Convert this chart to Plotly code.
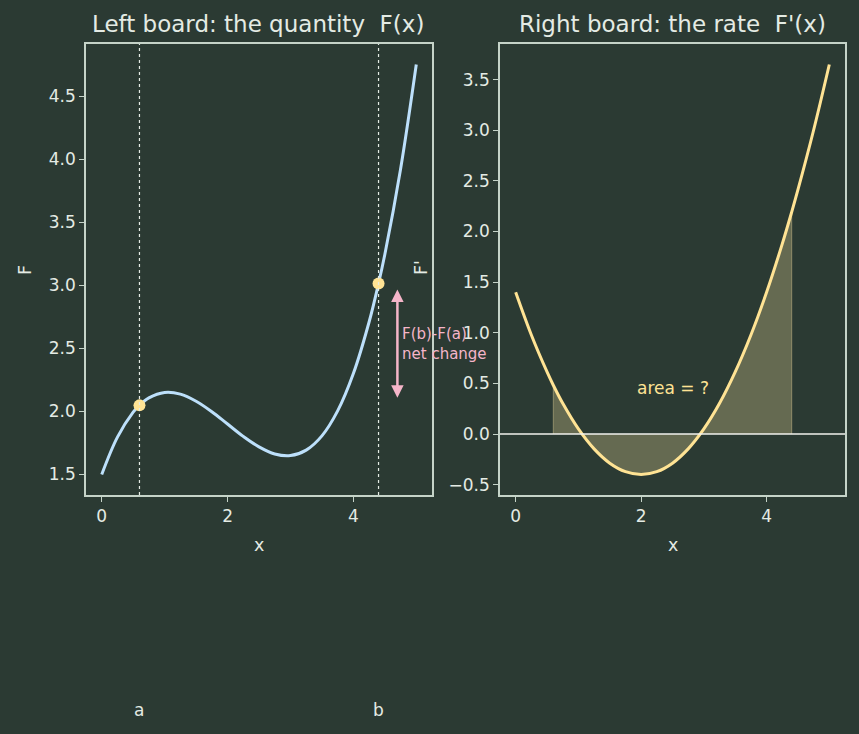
import plotly.graph_objects as go

# ---- data ----
x_vals = [0.0, 0.25, 0.5, 0.6, 0.75, 1.0, 1.25, 1.5, 1.75, 2.0, 2.25, 2.5, 2.75,
          3.0, 3.25, 3.5, 3.75, 4.0, 4.25, 4.4, 4.5, 4.75, 5.0]
F_vals = [1.50, 1.796, 1.994, 2.048, 2.107, 2.150, 2.137, 2.081, 1.998, 1.900, 1.802,
          1.719, 1.663, 1.650, 1.693, 1.806, 2.004, 2.300, 2.709, 3.014, 3.244, 3.920, 4.750]
dF_vals = [1.40, 0.978, 0.613, 0.482, 0.303, 0.050, -0.147, -0.288, -0.372, -0.400, -0.372,
           -0.288, -0.147, 0.050, 0.303, 0.613, 0.978, 1.400, 1.878, 2.192, 2.413, 3.003, 3.650]
a_pt, b_pt = 0.6, 4.4
Fa, Fb = 2.048, 3.014

left_xticks = [0, 2, 4]
left_yticks = [1.5, 2.0, 2.5, 3.0, 3.5, 4.0, 4.5]
right_xticks = [0, 2, 4]
right_yticks = [-0.5, 0.0, 0.5, 1.0, 1.5, 2.0, 2.5, 3.0, 3.5]

BG = "#2b3a33"
FG = "#e4ebe4"
SPINE = "#c5d3c8"
BLUE = "#bde0fb"
YEL = "#ffe394"
PINK = "#f5b5c9"
FONT = "DejaVu Sans"

fig = go.Figure()

# fill between F' and 0 from a to b
fx = [a_pt] + [x for x in x_vals if a_pt <= x <= b_pt] + [b_pt]
fy = [0.0] + [y for x, y in zip(x_vals, dF_vals) if a_pt <= x <= b_pt] + [0.0]
fig.add_trace(go.Scatter(x=fx, y=fy, fill="toself", mode="lines",
                         fillcolor="rgba(150,145,105,0.55)",
                         line=dict(color="rgba(160,155,115,0.8)", width=1),
                         xaxis="x2", yaxis="y2", hoverinfo="skip", showlegend=False))

fig.add_trace(go.Scatter(x=x_vals, y=F_vals, mode="lines", line=dict(color=BLUE, width=3, shape="spline"),
                         xaxis="x", yaxis="y", showlegend=False))
fig.add_trace(go.Scatter(x=[a_pt, b_pt], y=[Fa, Fb], mode="markers",
                         marker=dict(color=YEL, size=12), xaxis="x", yaxis="y", showlegend=False))
fig.add_trace(go.Scatter(x=x_vals, y=dF_vals, mode="lines", line=dict(color=YEL, width=3, shape="spline"),
                         xaxis="x2", yaxis="y2", showlegend=False))

axis_common = dict(showline=True, mirror=True, linecolor=SPINE, linewidth=1.5,
                   ticks="outside", ticklen=5, tickwidth=1.2, tickcolor=SPINE,
                   showgrid=False, zeroline=False,
                   tickfont=dict(family=FONT, size=17, color=FG))

ydom = [1 - 495 / 734, 1 - 44 / 734]
fig.update_layout(
    width=859, height=734,
    margin=dict(l=0, r=0, t=0, b=0),
    paper_bgcolor=BG, plot_bgcolor=BG,
    xaxis=dict(domain=[86 / 859, 432 / 859], range=[-0.25, 5.25], tickvals=left_xticks,
               anchor="y", **axis_common),
    yaxis=dict(domain=ydom, range=[1.3375, 4.9125], tickvals=left_yticks, tickformat=".1f",
               anchor="x", **axis_common),
    xaxis2=dict(domain=[500 / 859, 845 / 859], range=[-0.25, 5.25], tickvals=right_xticks,
                anchor="y2", **axis_common),
    yaxis2=dict(domain=ydom, range=[-0.6025, 3.8525], tickvals=right_yticks, tickformat=".1f",
                anchor="x2", **axis_common),
)

# dotted vertical lines at a and b
for xv in [a_pt, b_pt]:
    fig.add_shape(type="line", x0=xv, x1=xv, y0=0, y1=1, xref="x", yref="y domain",
                  line=dict(color=FG, width=1.2, dash="dot"))
# zero line on right
fig.add_shape(type="line", x0=0, x1=1, y0=0, y1=0, xref="x2 domain", yref="y2",
              line=dict(color="#f2f2ee", width=1.5))

ann = []
def txt(text, x, y, size, color=FG, xref="paper", yref="paper", xanchor="center", yanchor="middle", angle=0, align="center"):
    ann.append(dict(text=text, x=x, y=y, xref=xref, yref=yref, showarrow=False,
                    xanchor=xanchor, yanchor=yanchor, textangle=angle, align=align,
                    font=dict(family=FONT, size=size, color=color)))

txt("Left board: the quantity  F(x)", 258 / 859, 1 - 24 / 734, 23)
txt("Right board: the rate  F'(x)", 672.5 / 859, 1 - 24 / 734, 23)
txt("x", 259 / 859, 1 - 545 / 734, 17.5)
txt("x", 672.5 / 859, 1 - 545 / 734, 17.5)
txt("F", 25 / 859, 1 - 270 / 734, 17.5, angle=-90)
txt("F'", 421 / 859, 1 - 268 / 734, 17.5, angle=-90)
txt("a", a_pt, 1 - 710 / 734, 17, xref="x")
txt("b", b_pt, 1 - 710 / 734, 17, xref="x")
txt("area = ?", 2.5, 0.45, 17, color=YEL, xref="x2", yref="y2")
txt("F(b)-F(a)<br>net change", 4.74, (Fa + Fb) / 2, 15, color=PINK, xref="x", yref="y",
    xanchor="left", align="left")

# double-headed arrow
ann.append(dict(x=4.7, y=Fb, ax=4.7, ay=Fa, xref="x", yref="y", axref="x", ayref="y",
                showarrow=True, arrowhead=2, startarrowhead=2, arrowside="end+start",
                arrowsize=1, arrowwidth=2.5, arrowcolor=PINK, standoff=6, startstandoff=6, text=""))

fig.update_layout(annotations=ann)
fig.write_html("out.html")
